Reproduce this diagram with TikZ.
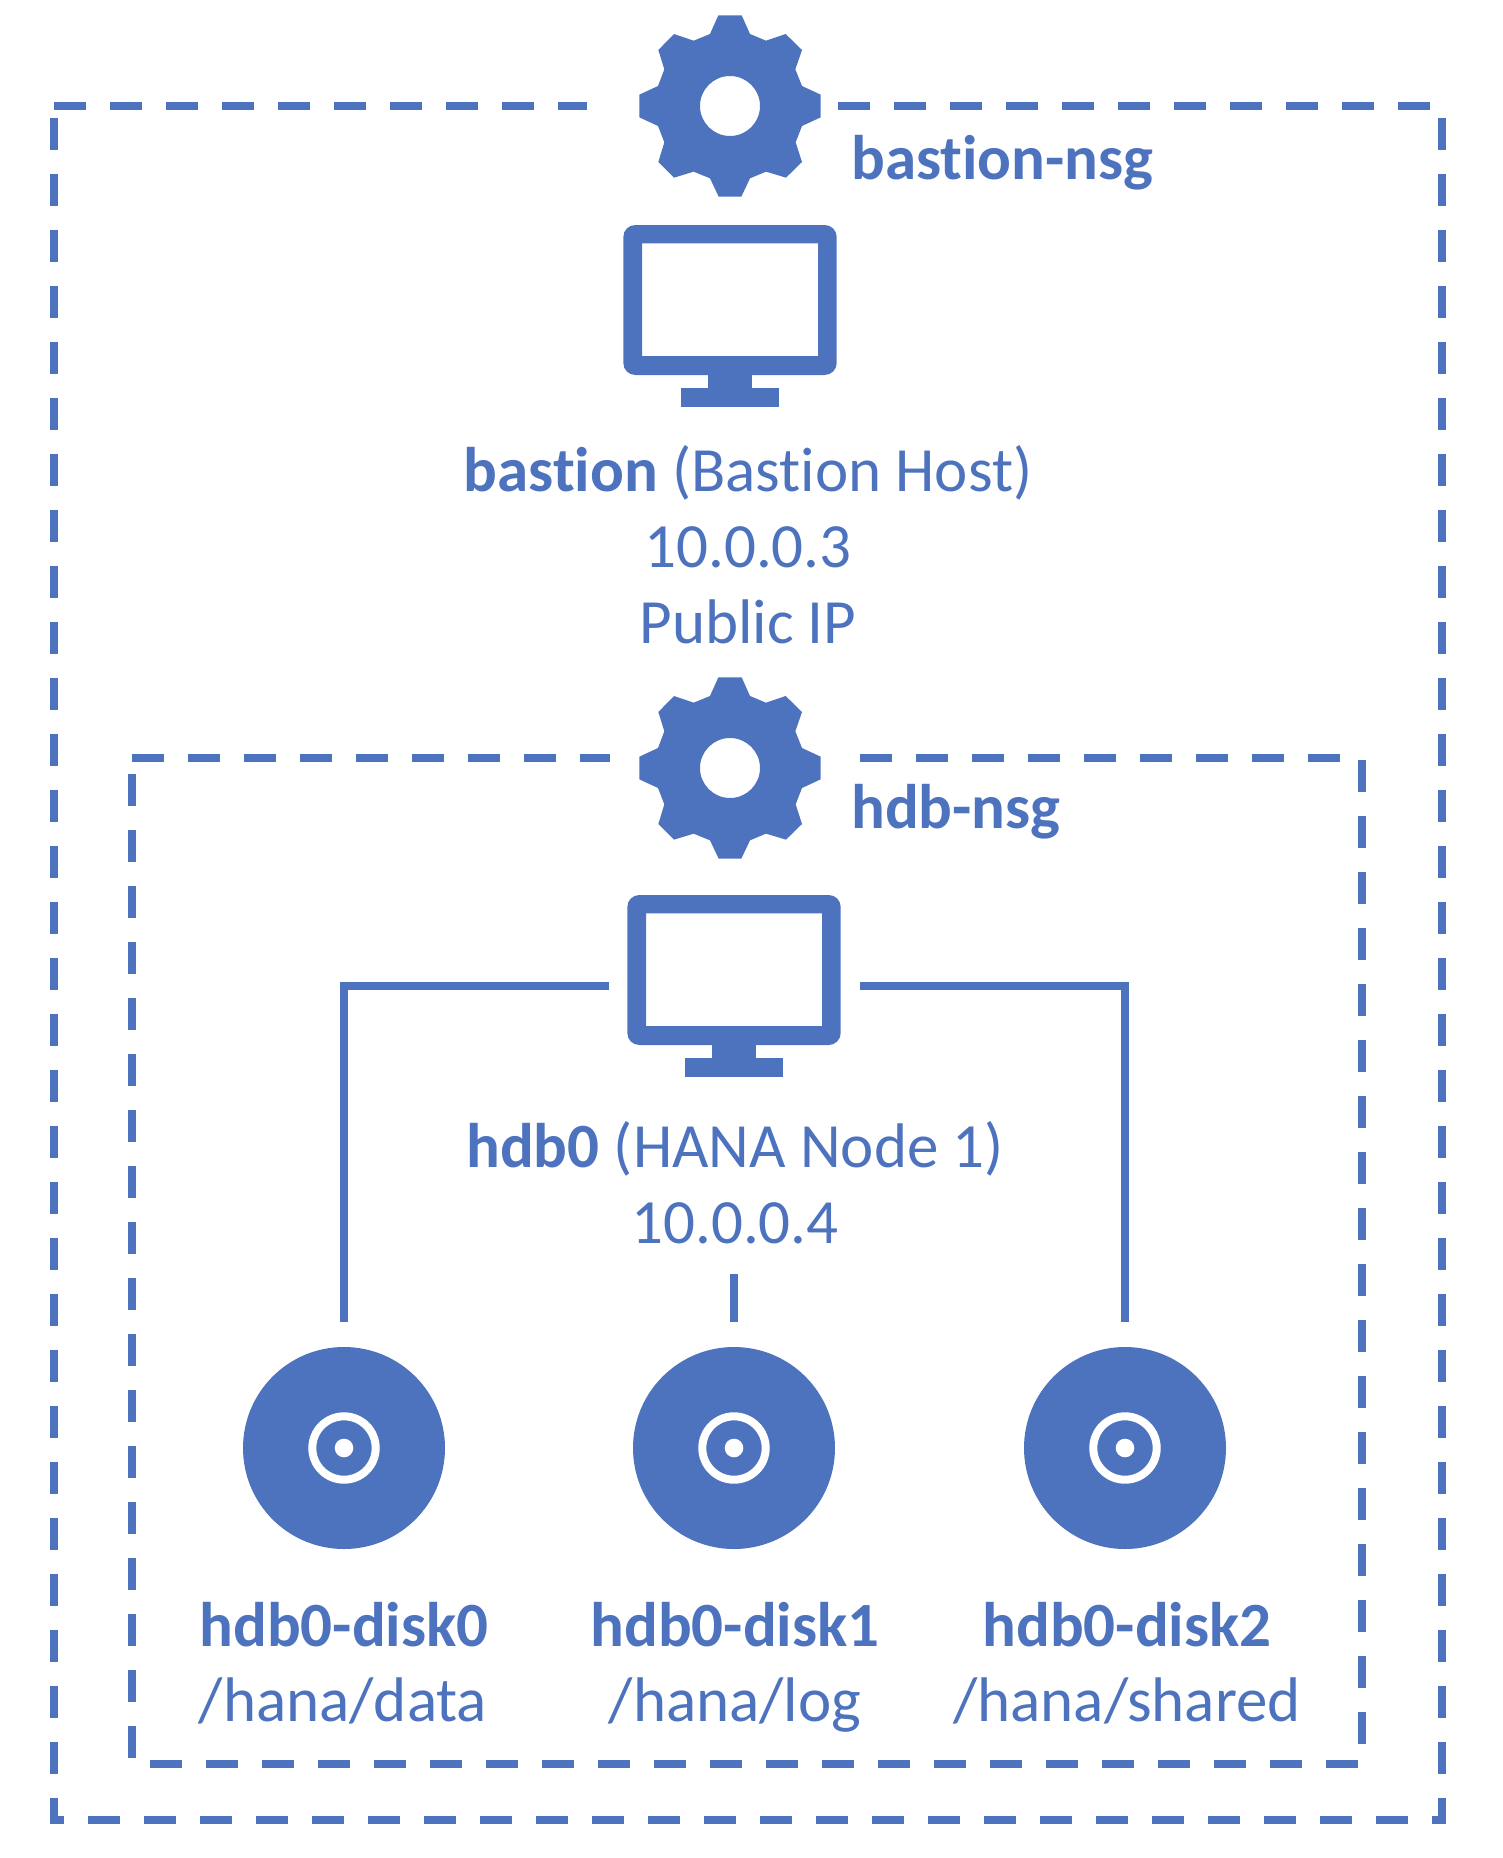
\documentclass[tikz,border=0pt]{standalone}
\usepackage{fontspec}
\setmainfont[RawFeature={-liga;-clig;-dlig}]{Carlito}
\definecolor{azure}{RGB}{78,115,190}
\tikzset{
  x=1pt,y=-1pt,
  frame/.style={draw=azure,line width=8pt,dash pattern=on 32pt off 24pt,miter limit=10},
  conn/.style={draw=azure,line width=8pt},
  gapmask/.style={fill=white,draw=none},
  lbl/.style={text=azure,font=\fontsize{63}{76}\selectfont,inner sep=0pt,align=center},
  lblleft/.style={lbl,anchor=base west},
  disk/.style={circle,fill=azure,draw=none,minimum size=202pt,inner sep=0pt},
  pics/gear/.style={code={
    \fill[azure,even odd rule,scale=0.33333]
      (-35,-272)--(35,-272)--(60,-216)--(108,-196)--(167,-216)--(216,-168)--(196,-110)--(216,-60)--(272,-34)
      --(272,34)--(216,60)--(197,109)--(216,168)--(168,215)--(108,197)--(60,217)--(34,272)--(-34,272)
      --(-60,217)--(-109,197)--(-168,215)--(-215,168)--(-197,109)--(-216,60)--(-272,34)--(-272,-34)
      --(-216,-60)--(-197,-110)--(-215,-168)--(-168,-216)--(-109,-196)--(-60,-216)--cycle
      (0,0) circle[radius=90];
  }},
  pics/monitor/.style={code={
    % origin: top centre of the screen
    \fill[azure,even odd rule]
      [rounded corners=12pt] (-106.7,0) rectangle (106.7,150)
      [sharp corners] (-88,18.3) rectangle (88,131);
    \fill[azure] (-22.3,149) rectangle (22.3,164);
    \fill[azure] (-48.7,163) rectangle (48.7,181.5);
  }},
}
\newcommand{\diskmark}[1]{%
  \draw[white,line width=8pt] (#1) circle[radius=31.7];
  \fill[white] (#1) circle[radius=9.3];
}
\begin{document}
\begin{tikzpicture}
\useasboundingbox (0,0) rectangle (1502,1858);

% outer and inner dashed frames
\draw[frame] (54,106) -- (1442,106) -- (1442,1820) -- (54,1820) -- cycle;
\draw[frame] (132,758) -- (1362,758) -- (1362,1764) -- (132,1764) -- cycle;
\fill[gapmask] (587,90) rectangle (830,122);
\fill[gapmask] (610,742) rectangle (850,774);

% gears
\pic at (730,106) {gear};
\pic at (730,768) {gear};
\node[lblleft] (bastionnsg) at (851,179) {\textbf{bastion-nsg}};
\node[lblleft] (hdbnsg) at (851,828) {\textbf{hdb-nsg}};

% monitors
\pic at (730,225) {monitor};
\pic at (734,895) {monitor};
\coordinate (hdb0L) at (609,986);
\coordinate (hdb0R) at (860,986);
\coordinate (hdb0B) at (734,1274);

\node[lbl,anchor=base] (bastionlbl) at (748,491) {\textbf{bastion} (Bastion Host)};
\node[lbl,anchor=base] (bastionip) at (748,567) {10.0.0.3};
\node[lbl,anchor=base] (bastionpub) at (748,643) {Public IP};
\node[lbl,anchor=base] (hdb0lbl) at (735,1167) {\textbf{hdb0} (HANA Node 1)};
\node[lbl,anchor=base] (hdb0ip) at (735,1243) {10.0.0.4};

% disks
\node[disk] (disk0) at (344,1448) {};
\node[disk] (disk1) at (734,1448) {};
\node[disk] (disk2) at (1125,1448) {};
\diskmark{disk0.center}
\diskmark{disk1.center}
\diskmark{disk2.center}
\coordinate (stub0) at (344,1322);
\coordinate (stub1) at (734,1322);
\coordinate (stub2) at (1125,1322);

\draw[conn] (hdb0L) -| (stub0);
\draw[conn] (hdb0R) -| (stub2);
\draw[conn] (hdb0B) -- (stub1);

\node[lbl,anchor=base] (d0a) at (344,1646) {\textbf{hdb0-disk0}};
\node[lbl,anchor=base] (d0b) at (343,1721.5) {/hana/data};
\node[lbl,anchor=base] (d1a) at (735,1646) {\textbf{hdb0-disk1}};
\node[lbl,anchor=base] (d1b) at (735,1721.5) {/hana/log};
\node[lbl,anchor=base] (d2a) at (1127,1646) {\textbf{hdb0-disk2}};
\node[lbl,anchor=base] (d2b) at (1127,1721.5) {/hana/shared};
\end{tikzpicture}
\end{document}
